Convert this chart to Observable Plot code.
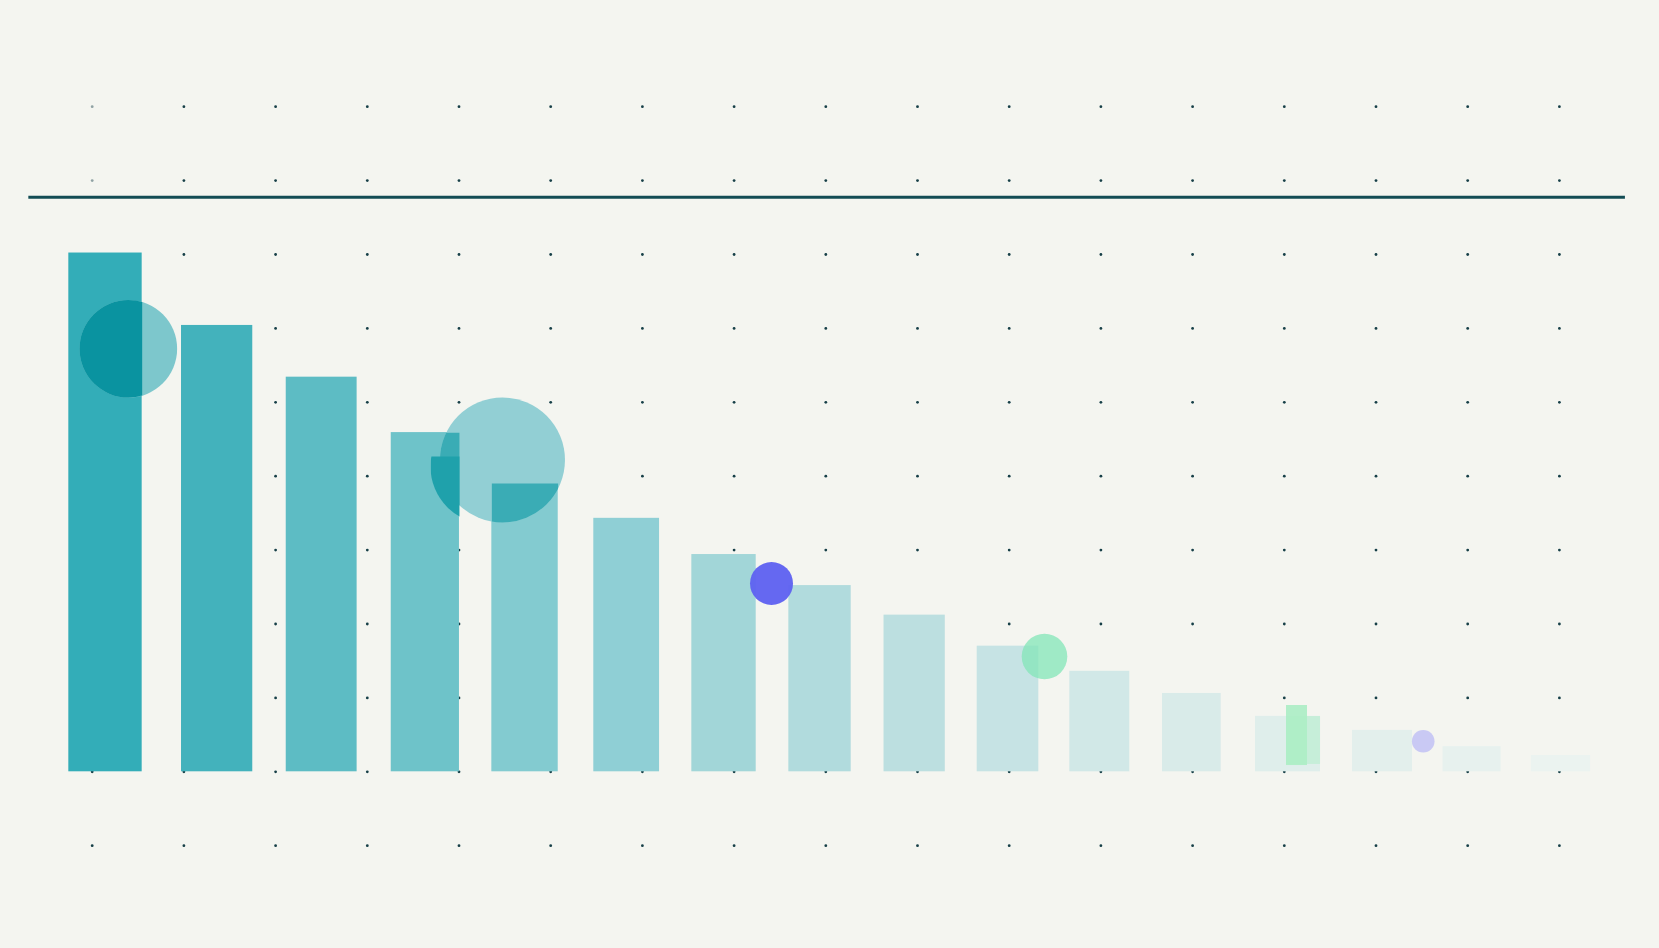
<!DOCTYPE html>
<html>
<head>
<meta charset="utf-8">
<script src="https://cdn.jsdelivr.net/npm/d3@7"></script>
<script src="https://cdn.jsdelivr.net/npm/@observablehq/plot@0.6"></script>
<style>
  html, body { margin: 0; padding: 0; background: #f4f5f0; overflow: hidden; }
  #chart svg { display: block; }
</style>
</head>
<body>
<div id="chart"></div>
<script>
// ---- data (values in chart units: x = grid column units, y = grid row units above baseline) ----
const barIndex = d3.range(16);
const barStart = [0.745, 1.974, 3.116, 4.261, 5.358, 6.470, 7.539, 8.597, 9.635, 10.651, 11.661, 12.672, 13.686, 14.744, 15.731, 16.695];
const barEnd   = [1.545, 2.751, 3.889, 5.005, 6.082, 7.187, 8.241, 9.277, 10.303, 11.323, 12.315, 13.312, 14.395, 15.398, 16.364, 17.340];
const barValue = [7.02, 6.04, 5.34, 4.59, 3.90, 3.43, 2.94, 2.52, 2.12, 1.70, 1.36, 1.06, 0.75, 0.56, 0.34, 0.22];

const gridCols = d3.range(1, 18);      // 1..17
const gridRows = d3.range(-1, 10);     // -1..9

const ruleLevel = 7.775;
const ruleFrom = 0.309;
const ruleTo = 17.72;

// bubbles: position (x, y) and radius (px)
const bigX = [1.394, 5.474];
const bigY = [5.724, 4.219];
const bigR = [48.8, 62.5];
const bigOverBars = [[0], [3, 4]];     // bars each bubble darkens

const wedgeX = [5.317];
const wedgeY = [4.131];
const wedgeR = [57.6];
const wedgeClip = {x1: 4.692, x2: 5.005, y1: 3.2, y2: 4.267};

const blueX = [8.408], blueY = [2.548], blueR = [21.5];
const greenX = [11.385], greenY = [1.560], greenR = [22.8];
const lilacX = [15.515], lilacY = [0.414], lilacR = [11.3];

const slabX1 = [14.024], slabX2 = [14.253], slabY1 = [0.085], slabY2 = [0.897];
const glowX1 = [14.024], glowX2 = [14.395], glowY1 = [0.099], glowY2 = [0.748];

// ---- tables built from the arrays ----
const bars = barIndex.map(i => ({i, x1: barStart[i], x2: barEnd[i], v: barValue[i]}));
const grid = d3.cross(gridCols, gridRows).map(([c, r]) => ({c, r, faint: c === 1 && r >= 8}));
const pts = (xs, ys, rs) => xs.map((x, i) => ({x, y: ys[i], r: rs[i]}));
const rects = (a, b, c, d) => a.map((x1, i) => ({x1, x2: b[i], y1: c[i], y2: d[i]}));
const bubbleA = pts(bigX.slice(0, 1), bigY.slice(0, 1), bigR.slice(0, 1));
const bubbleB = pts(bigX.slice(1), bigY.slice(1), bigR.slice(1));

const W = 1659, H = 948;
const barColors = ["#33adb8","#43b2bc","#5dbcc4","#6ec3c9","#83cbd0","#8fcfd5","#a2d6d8","#b1dbdd",
                   "#bcdfe0","#c6e3e4","#d1e8e7","#d9ebe9","#dfeeeb","#e3efec","#e7f1ee","#ebf3f0"];

const plot = Plot.plot({
  width: W,
  height: H,
  margin: 0,
  style: {background: "#f4f5f0"},
  x: {domain: [0, W / 91.7], axis: null},
  y: {domain: [-(H - 771.3) / 73.9, 771.3 / 73.9], axis: null},
  r: {type: "identity"},
  color: {type: "ordinal", domain: barIndex, range: barColors},
  marks: [
    Plot.dot(grid, {x: "c", y: "r", r: 1.4, fill: "#163f47", stroke: "none",
                    fillOpacity: d => d.faint ? 0.45 : 1}),
    Plot.ruleY([ruleLevel], {x1: ruleFrom, x2: ruleTo, stroke: "#124c54", strokeWidth: 3}),
    Plot.rectY(bars, {x1: "x1", x2: "x2", y1: 0, y2: "v", fill: "i"}),
    Plot.dot(bubbleA, {x: "x", y: "y", r: "r", fill: "#7dc7cc", stroke: "none"}),
    Plot.dot(bubbleA, {x: "x", y: "y", r: "r", fill: "#0a93a0", stroke: "none", ariaDescription: "overlap-0"}),
    Plot.dot(bubbleB, {x: "x", y: "y", r: "r", fill: "#92cfd4", stroke: "none"}),
    Plot.dot(bubbleB, {x: "x", y: "y", r: "r", fill: "#3aacb5", stroke: "none", ariaDescription: "overlap-1"}),
    Plot.dot(pts(wedgeX, wedgeY, wedgeR),
             {x: "x", y: "y", r: "r", fill: "#1fa1ab", stroke: "none", ariaDescription: "wedge"}),
    Plot.dot(pts(blueX, blueY, blueR),
             {x: "x", y: "y", r: "r", fill: "#5f62f0", fillOpacity: 0.96, stroke: "none"}),
    Plot.dot(pts(greenX, greenY, greenR),
             {x: "x", y: "y", r: "r", fill: "#83e5b8", fillOpacity: 0.75, stroke: "none"}),
    Plot.rect(rects(glowX1, glowX2, glowY1, glowY2),
             {x1: "x1", x2: "x2", y1: "y1", y2: "y2", fill: "#bdeed3", fillOpacity: 0.75}),
    Plot.rect(rects(slabX1, slabX2, slabY1, slabY2),
             {x1: "x1", x2: "x2", y1: "y1", y2: "y2", fill: "#aeedc6", fillOpacity: 0.95}),
    Plot.dot(pts(lilacX, lilacY, lilacR),
             {x: "x", y: "y", r: "r", fill: "#c4c4f4", fillOpacity: 0.9, stroke: "none"})
  ]
});

// clip marks to rectangles given in data units, using the plot's own scales
const sx = plot.scale("x"), sy = plot.scale("y");
const ns = "http://www.w3.org/2000/svg";
const defs = document.createElementNS(ns, "defs");
plot.insertBefore(defs, plot.firstChild);
function clipTo(desc, boxes) {
  const g = plot.querySelector(`g[aria-description="${desc}"]`);
  if (!g) return;
  const cp = document.createElementNS(ns, "clipPath");
  cp.setAttribute("id", "clip-" + desc);
  for (const b of boxes) {
    const r = document.createElementNS(ns, "rect");
    const px1 = sx.apply(b.x1), px2 = sx.apply(b.x2);
    const py1 = sy.apply(b.y2), py2 = sy.apply(b.y1);
    r.setAttribute("x", px1); r.setAttribute("y", py1);
    r.setAttribute("width", px2 - px1); r.setAttribute("height", py2 - py1);
    cp.appendChild(r);
  }
  defs.appendChild(cp);
  g.setAttribute("clip-path", `url(#clip-${desc})`);
}
bigOverBars.forEach((list, k) =>
  clipTo("overlap-" + k, list.map(i => ({x1: bars[i].x1, x2: bars[i].x2, y1: 0, y2: bars[i].v}))));
clipTo("wedge", [wedgeClip]);

document.getElementById("chart").appendChild(plot);
</script>
</body>
</html>
